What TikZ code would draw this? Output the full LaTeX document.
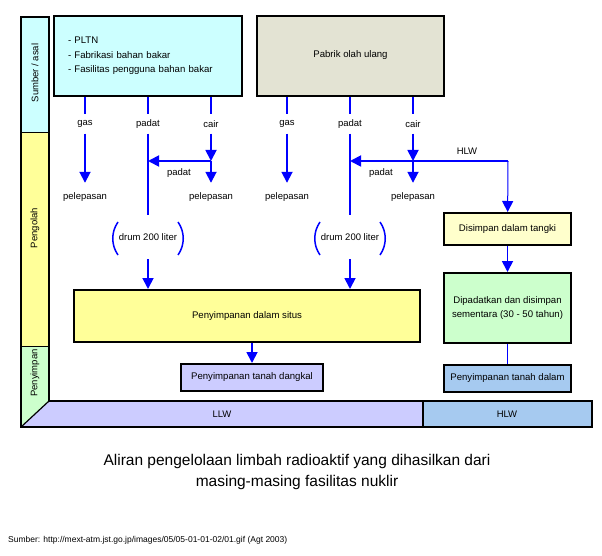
\documentclass[tikz,border=0pt]{standalone}
\usepackage{fontspec}
\setmainfont{Liberation Sans}
\usetikzlibrary{arrows.meta,calc}
\definecolor{asal}{RGB}{204,255,255}
\definecolor{olah}{RGB}{255,255,153}
\definecolor{simpan}{RGB}{204,255,204}
\definecolor{pabrik}{RGB}{227,227,211}
\definecolor{tangki}{RGB}{255,255,204}
\definecolor{llw}{RGB}{204,204,255}
\definecolor{hlw}{RGB}{166,202,240}
\begin{document}
\begin{tikzpicture}[x=1pt,y=-1pt,>={Triangle[length=11pt,width=11pt]},
	flow/.style={blue,line width=1.8pt},
	box/.style={draw,line width=2pt,inner sep=0pt,align=center,font=\fontsize{9.6}{13.5}\selectfont},
	lbl/.style={inner sep=0pt,font=\fontsize{9.5}{11}\selectfont},
	lepas/.style={lbl,minimum height=28pt},
	side/.style={lbl,rotate=90}]
	\useasboundingbox (0,0) rectangle (602,556);
	\fill[asal](21,17)rectangle(49,133);
	\fill[olah](21,133)rectangle(49,346);
	\fill[simpan](21,346)--(49,346)--(49,401)--(21,427)--cycle;
	\fill[llw](21,427)--(49,401)--(423,401)--(423,427)--cycle;
	\fill[hlw](423,401)rectangle(592,427);
	\draw[line width=2pt](21,17)--(49,17)--(49,401)--(592,401)--(592,427)--(21,427)--cycle;
	\draw[line width=1pt](21,133)--(49,133) (21,346)--(49,346);
	\draw[line width=2pt](423,401)--(423,427);
	\draw[line width=1.2pt](49,401)--(21,427);
	\node[side](sumber) at (35,73){Sumber / asal};
	\node[side](pengolah) at (35,228){Pengolah};
	\node[side](penyimpan) at (35,373){Penyimpan};
	\node[lbl](llwbar) at (222,414){LLW};
	\node[lbl](hlwbar) at (507,414){HLW};
	\node[box,fill=asal,text width=160pt,minimum height=80pt,inner xsep=14pt,align=left,font=\fontsize{9.6}{14.5}\selectfont](srcA) at (148,56)
		{- PLTN\\- Fabrikasi bahan bakar\\- Fasilitas pengguna bahan bakar};
	\node[box,fill=pabrik,minimum width=187pt,minimum height=80pt](srcB) at (350.5,56){\raisebox{4pt}{Pabrik olah ulang}};
	\node[box,fill=olah,minimum width=346pt,minimum height=52pt](situs) at (247,316){Penyimpanan dalam situs};
	\node[box,fill=llw,minimum width=142pt,minimum height=27pt](dangkal) at (252,377.5){Penyimpanan tanah dangkal};
	\node[box,fill=tangki,minimum width=127pt,minimum height=32pt](tangkiBox) at (507.5,229){Disimpan dalam tangki};
	\node[box,fill=simpan,minimum width=127pt,minimum height=70pt](padatkan) at (507.5,308)
		{Dipadatkan dan disimpan\\sementara (30 - 50 tahun)};
	\node[box,fill=hlw,minimum width=127pt,minimum height=27pt](dalam) at (507.5,378){Penyimpanan tanah dalam};
	\foreach \s/\dx in {A/0,B/202}{
		\node[lbl,minimum height=19pt](gas\s) at (85+\dx,124){gas};
		\node[lbl,minimum height=19pt](padat\s) at (148+\dx,124){padat};
		\node[lbl,minimum height=19pt](cair\s) at (211+\dx,124){cair};
		\node[lepas](lepasGas\s) at (85+\dx,197){pelepasan};
		\node[lepas](lepasCair\s) at (211+\dx,197){pelepasan};
		\node[lbl](padatKe\s) at (179+\dx,173){padat};
		\node[lbl,minimum height=44pt](drum\s) at (148+\dx,237){drum 200 liter};
		\coordinate(j\s) at (211+\dx,161);
		\draw[flow](srcA.south-|gas\s)--(gas\s) (srcA.south-|padat\s)--(padat\s) (srcA.south-|cair\s)--(cair\s);
		\draw[flow,->](gas\s)--(lepasGas\s);
		\draw[flow](padat\s)--(drum\s);
		\draw[flow,->](drum\s)--(situs.north-|drum\s);
		\draw[flow,->](cair\s)--(j\s);
		\draw[flow,->](j\s)--(lepasCair\s);
		\draw[flow,line width=1.5pt]($(drum\s)+(-30,-15)$)..controls +(-7,10) and +(-7,-10)..($(drum\s)+(-30,18)$);
		\draw[flow,line width=1.5pt]($(drum\s)+(30,-15)$)..controls +(7,10) and +(7,-10)..($(drum\s)+(30,18)$);
	}
	\draw[flow,->](jA)--(jA-|padatA);
	\coordinate(hlwBelok) at (508,161);
	\node[lbl](hlwKe) at (467,151){HLW};
	\draw[flow,->](hlwBelok)--(hlwBelok-|padatB);
	\draw[blue,line width=1pt,->](hlwBelok)--(tangkiBox);
	\draw[flow,->](tangkiBox)--(padatkan);
	\draw[blue,line width=1.3pt](padatkan)--(dalam);
	\draw[flow,->](situs.south-|dangkal)--(dangkal);
	\node[align=center,font=\fontsize{15.5}{21}\selectfont](judul) at (297,472)
		{Aliran pengelolaan limbah radioaktif yang dihasilkan dari\\masing-masing fasilitas nuklir};
	\node[anchor=west,inner sep=0pt,font=\fontsize{8.5}{9}\selectfont](sumberUrl) at (8,540)
		{Sumber: http://mext-atm.jst.go.jp/images/05/05-01-01-02/01.gif (Agt 2003)};
\end{tikzpicture}
\end{document}
